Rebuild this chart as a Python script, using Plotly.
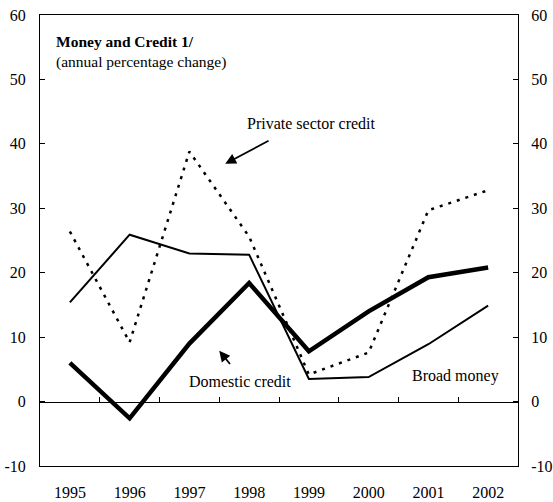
import plotly.graph_objects as go

years = [1995, 1996, 1997, 1998, 1999, 2000, 2001, 2002]
broad_money = [15.4, 25.9, 23.0, 22.8, 3.5, 3.8, 8.9, 14.9]
domestic_credit = [6.0, -2.6, 9.0, 18.4, 7.8, 14.0, 19.3, 20.8]
private_credit = [26.4, 9.2, 38.8, 25.6, 4.2, 7.6, 29.7, 32.8]
y_ticks = [-10, 0, 10, 20, 30, 40, 50, 60]
y_tick_labels = ["-10", "0", "10", "20", "30", "40", "50", "60"]
minor_x_ticks = [1995.5, 1996.5, 1997.5, 1998.5, 1999.5, 2000.5, 2001.5]

FONT = "Liberation Serif, Times New Roman, serif"
FS = 16
Y_MIN, Y_MAX = -10, 60

fig = go.Figure()
fig.add_trace(go.Scatter(x=years, y=private_credit, mode="lines",
                         line=dict(color="black", width=2.5, dash="3px,6px"),
                         name="Private sector credit"))
fig.add_trace(go.Scatter(x=years, y=broad_money, mode="lines",
                         line=dict(color="black", width=2),
                         name="Broad money"))
fig.add_trace(go.Scatter(x=years, y=domestic_credit, mode="lines",
                         line=dict(color="black", width=4.5),
                         name="Domestic credit"))
fig.add_trace(go.Scatter(x=years, y=domestic_credit, yaxis="y2", mode="lines",
                         line=dict(width=0), opacity=0, hoverinfo="skip",
                         showlegend=False))
fig.add_trace(go.Scatter(x=years, y=domestic_credit, xaxis="x2", mode="lines",
                         line=dict(width=0), opacity=0, hoverinfo="skip",
                         showlegend=False))

zero_pos = (0 - Y_MIN) / (Y_MAX - Y_MIN)

fig.update_layout(
    template="none",
    width=553, height=502,
    margin=dict(l=40, r=35, t=15, b=36, pad=0),
    paper_bgcolor="white", plot_bgcolor="white",
    showlegend=False,
    font=dict(family=FONT, size=FS, color="black"),
    xaxis=dict(range=[1994.5, 2002.5], tickvals=years, ticktext=[str(y) for y in years],
               showgrid=False, zeroline=False, showline=True, linecolor="black",
               linewidth=1, mirror=True, ticks="", ticklabelstandoff=12,
               automargin=False, tickfont=dict(family=FONT, size=FS)),
    xaxis2=dict(range=[1994.5, 2002.5], overlaying="x", anchor="free",
                position=zero_pos, tickvals=minor_x_ticks, ticks="inside",
                ticklen=5, tickcolor="black", showticklabels=False,
                showline=True, linecolor="black", linewidth=1, showgrid=False,
                zeroline=False, automargin=False),
    yaxis=dict(range=[Y_MIN, Y_MAX], tickvals=y_ticks, ticktext=y_tick_labels,
               showgrid=False, zeroline=False,
               showline=True, linecolor="black", linewidth=1, ticks="inside",
               ticklen=5, tickcolor="black", ticklabelstandoff=10,
               automargin=False, tickfont=dict(family=FONT, size=FS)),
    yaxis2=dict(range=[Y_MIN, Y_MAX], tickvals=y_ticks, ticktext=y_tick_labels,
                overlaying="y", side="right",
                showgrid=False, zeroline=False, showline=True, linecolor="black",
                linewidth=1, ticks="inside", ticklen=5, tickcolor="black",
                ticklabelstandoff=9, automargin=False,
                tickfont=dict(family=FONT, size=FS)),
)

fig.add_annotation(x=0.03, y=0.965, xref="paper", yref="paper", xanchor="left",
                   yanchor="top", align="left", showarrow=False,
                   text="<b>Money and Credit 1/</b><br>(annual percentage change)",
                   font=dict(family=FONT, size=15.5))

fig.add_annotation(x=1997.6, y=36.9, ax=1998.35, ay=40.6, xref="x", yref="y",
                   axref="x", ayref="y", showarrow=True, arrowhead=2, arrowsize=1.2,
                   arrowwidth=1.8, arrowcolor="black", text="")
fig.add_annotation(x=1999.04, y=43.2, xref="x", yref="y", showarrow=False,
                   text="Private sector credit", font=dict(family=FONT, size=FS))

fig.add_annotation(x=1997.5, y=7.9, ax=1997.7, ay=5.6, xref="x", yref="y",
                   axref="x", ayref="y", showarrow=True, arrowhead=2, arrowsize=1.2,
                   arrowwidth=1.8, arrowcolor="black", text="")
fig.add_annotation(x=1997.85, y=3.1, xref="x", yref="y", showarrow=False,
                   text="Domestic credit", font=dict(family=FONT, size=FS))

fig.add_annotation(x=2001.46, y=3.9, xref="x", yref="y", showarrow=False,
                   text="Broad money", font=dict(family=FONT, size=FS))

# remove the browser's default page margin so the figure fills the window exactly
fig.write_html(
    "out.html",
    config={"displayModeBar": False},
    post_script="document.body.style.margin='0';"
                "document.documentElement.style.overflow='hidden';"
                "document.body.style.overflow='hidden';",
)
